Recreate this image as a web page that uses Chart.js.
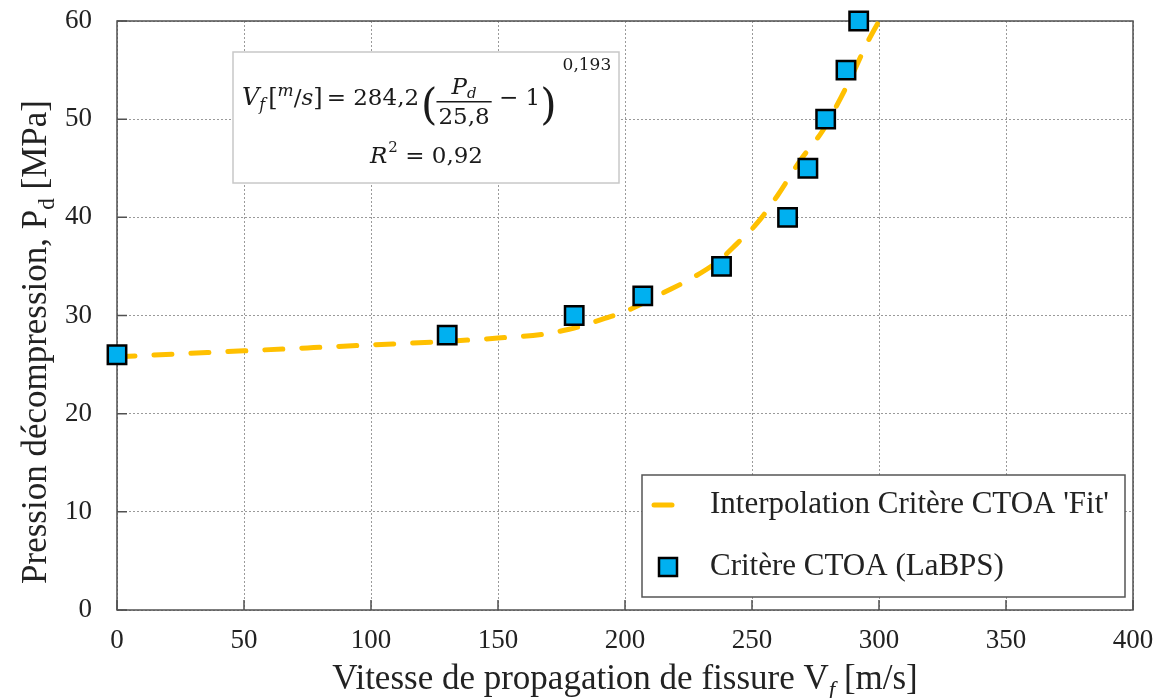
<!DOCTYPE html>
<html>
<head>
<meta charset="utf-8">
<script src="https://cdn.jsdelivr.net/npm/chart.js@4.4.0/dist/chart.umd.min.js"></script>
<style>
  html, body { margin: 0; padding: 0; background: #fff; }
  #wrap { width: 1167px; height: 698px; position: relative; }
</style>
</head>
<body>
<div id="wrap"><canvas id="chart"></canvas></div>
<script>
// courbe d'interpolation
const fitX = [0, 25, 50, 75, 100, 125, 150, 168, 178, 185, 192, 200, 215, 227, 237, 244, 252, 260, 269, 278, 285, 290, 295, 300];
const fitY = [25.8, 26.1, 26.4, 26.7, 27.0, 27.3, 27.7, 28.1, 28.6, 29.1, 29.7, 30.4, 32.3, 33.9, 35.6, 37.3, 39.4, 42.2, 45.8, 48.9, 52.2, 54.8, 57.6, 60];

// points du critère CTOA (LaBPS)
const critX = [0, 130, 180, 207, 238, 264, 272, 279, 287, 292];
const critY = [26, 28, 30, 32, 35, 40, 45, 50, 55, 60];

const xTicks = [0, 50, 100, 150, 200, 250, 300, 350, 400];
const yTicks = [0, 10, 20, 30, 40, 50, 60];

const legendLabels = ["Interpolation Critère CTOA 'Fit'", "Critère CTOA (LaBPS)"];

const jaune = '#FFC000';
const bleu = '#00B0F0';
const texte = '#222222';
const serif = '"Liberation Serif", "Times New Roman", serif';
const maths = '"DejaVu Serif", serif';

// cadre + graduations intérieures
const cadre = {
    id: 'cadre',
    beforeDatasetsDraw(chart) {
        const ctx = chart.ctx
        const a = chart.chartArea
        const sx = chart.scales.x, sy = chart.scales.y
        ctx.save()
        ctx.strokeStyle = '#505050'
        ctx.lineWidth = 1.5
        ctx.strokeRect(a.left, a.top, a.right - a.left, a.bottom - a.top)
        ctx.beginPath()
        xTicks.forEach((v) => {
            const px = sx.getPixelForValue(v)
            ctx.moveTo(px, a.bottom)
            ctx.lineTo(px, a.bottom - 10)
        })
        yTicks.forEach((v) => {
            const py = sy.getPixelForValue(v)
            ctx.moveTo(a.left, py)
            ctx.lineTo(a.left + 10, py)
        })
        ctx.stroke()
        ctx.restore()
    }
}

// titres des axes avec indices
function texteIndice(ctx, parts, x, y, align) {
    // parts : [texte, police, decalage vertical]
    let total = 0
    parts.forEach((p) => { ctx.font = p[1]; total += ctx.measureText(p[0]).width })
    let cx = align === 'center' ? x - total / 2 : x
    parts.forEach((p) => {
        ctx.font = p[1]
        ctx.fillText(p[0], cx, y + p[2])
        cx += ctx.measureText(p[0]).width
    })
}

const titres = {
    id: 'titres',
    afterDraw(chart) {
        const ctx = chart.ctx
        ctx.save()
        ctx.fillStyle = texte
        ctx.textBaseline = 'alphabetic'
        ctx.textAlign = 'left'
        texteIndice(ctx, [
            ['Vitesse de propagation de fissure V', '35px ' + serif, 0],
            ['f', 'italic 23px ' + serif, 8],
            [' [m/s]', '35px ' + serif, 0]
        ], 625, 689, 'center')

        ctx.translate(46, 342)
        ctx.rotate(-Math.PI / 2)
        texteIndice(ctx, [
            ['Pression décompression, P', '35px ' + serif, 0],
            ['d', '23px ' + serif, 8],
            [' [MPa]', '35px ' + serif, 0]
        ], 0, 0, 'center')
        ctx.restore()
    }
}

// légende et encadré de l'équation
const encadres = {
    id: 'encadres',
    afterDatasetsDraw(chart) {
        const ctx = chart.ctx
        ctx.save()

        // légende
        ctx.fillStyle = '#fff'
        ctx.fillRect(642, 475, 483, 122)
        ctx.strokeStyle = '#555'
        ctx.lineWidth = 1.5
        ctx.strokeRect(642, 475, 483, 122)

        ctx.strokeStyle = jaune
        ctx.lineWidth = 5
        ctx.lineCap = 'round'
        ctx.beginPath()
        ctx.moveTo(654, 505)
        ctx.lineTo(672, 505)
        ctx.stroke()

        ctx.fillStyle = bleu
        ctx.fillRect(659, 558, 18, 18)
        ctx.strokeStyle = '#000'
        ctx.lineWidth = 2.5
        ctx.strokeRect(659, 558, 18, 18)

        ctx.fillStyle = texte
        ctx.font = '31px ' + serif
        ctx.textBaseline = 'middle'
        ctx.fillText(legendLabels[0], 710, 505)
        ctx.fillText(legendLabels[1], 710, 567)

        // équation
        ctx.fillStyle = '#fff'
        ctx.fillRect(233, 52, 386, 131)
        ctx.strokeStyle = '#c8c8c8'
        ctx.lineWidth = 1.5
        ctx.strokeRect(233, 52, 386, 131)

        ctx.fillStyle = '#1a1a1a'
        ctx.textBaseline = 'alphabetic'
        const base = 105
        let cx = 242
        const put = (t, font, dy) => {
            ctx.font = font
            ctx.fillText(t, cx, base + (dy || 0))
            cx += ctx.measureText(t).width
        }
        put('V', 'italic 24px ' + maths)
        put('f', 'italic 16px ' + maths, 5)
        cx += 3
        put('[', '24px ' + maths)
        put('m', 'italic 17px ' + maths, -9)
        put('/', '23px ' + maths)
        put('s', 'italic 23px ' + maths)
        put(']', '24px ' + maths)
        cx += 4
        put('= 284,2', '23px ' + maths)
        cx += 2
        put('(', '42px ' + maths, 14)
        // fraction
        const fx = cx + 1
        ctx.font = '23px ' + maths
        const fw = ctx.measureText('25,8').width
        ctx.font = 'italic 23px ' + maths
        const pw = ctx.measureText('P').width
        ctx.font = 'italic 15px ' + maths
        const dw = ctx.measureText('d').width
        const px0 = fx + (fw - pw - dw) / 2
        ctx.font = 'italic 23px ' + maths
        ctx.fillText('P', px0, base - 11)
        ctx.font = 'italic 15px ' + maths
        ctx.fillText('d', px0 + pw, base - 7)
        ctx.fillRect(fx - 2, base - 4, fw + 4, 1.5)
        ctx.font = '23px ' + maths
        ctx.fillText('25,8', fx, base + 19)
        cx = fx + fw + 2
        put(' − 1', '23px ' + maths)
        put(')', '42px ' + maths, 14)
        cx += 6
        put('0,193', '17px ' + maths, -35)

        // R²
        ctx.font = 'italic 23px ' + maths
        const rw = ctx.measureText('R').width
        ctx.font = '15px ' + maths
        const sw = ctx.measureText('2').width
        ctx.font = '23px ' + maths
        const ew = ctx.measureText(' = 0,92').width
        let rx = 426 - (rw + sw + ew) / 2
        ctx.font = 'italic 23px ' + maths
        ctx.fillText('R', rx, 163)
        rx += rw + 1
        ctx.font = '15px ' + maths
        ctx.fillText('2', rx, 152)
        rx += sw
        ctx.font = '23px ' + maths
        ctx.fillText(' = 0,92', rx, 163)

        ctx.restore()
    }
}

function Grafica() {
    const data = {
        datasets: [{
            label: legendLabels[0],
            data: fitX.map((x, i) => ({ x: x, y: fitY[i] })),
            borderColor: jaune,
            borderWidth: 5,
            borderDash: [18, 19],
            borderCapStyle: 'round',
            cubicInterpolationMode: 'monotone',
            pointRadius: 0,
            fill: false,
            clip: false,
            order: 2
        }, {
            label: legendLabels[1],
            data: critX.map((x, i) => ({ x: x, y: critY[i] })),
            showLine: false,
            pointStyle: 'rect',
            pointRadius: 13,
            pointBackgroundColor: bleu,
            pointBorderColor: '#000',
            pointBorderWidth: 2.5,
            clip: false,
            order: 1
        }]
    }

    const config = {
        type: 'line',
        data: data,
        options: {
            responsive: true,
            maintainAspectRatio: false,
            animation: false,
            devicePixelRatio: 1,
            layout: { padding: { top: 21, right: 34, left: 0, bottom: 0 } },
            plugins: {
                legend: { display: false },
                tooltip: { enabled: false }
            },
            scales: {
                x: {
                    type: 'linear',
                    min: 0,
                    max: 400,
                    afterFit: (s) => { s.height = 88; s.paddingLeft = 0; s.paddingRight = 0 },
                    afterBuildTicks: (s) => { s.ticks = xTicks.map((v) => ({ value: v })) },
                    ticks: {
                        padding: 15,
                        color: texte,
                        font: { family: serif, size: 27 },
                        maxRotation: 0
                    },
                    grid: { color: '#9a9a9a', lineWidth: 1, drawTicks: false },
                    border: { display: false, dash: [2, 2] }
                },
                y: {
                    min: 0,
                    max: 60,
                    afterFit: (s) => { s.width = 117; s.paddingTop = 0; s.paddingBottom = 0 },
                    afterBuildTicks: (s) => { s.ticks = yTicks.map((v) => ({ value: v })) },
                    ticks: {
                        padding: 25,
                        color: texte,
                        font: { family: serif, size: 27 }
                    },
                    grid: { color: '#9a9a9a', lineWidth: 1, drawTicks: false },
                    border: { display: false, dash: [2, 2] }
                }
            }
        },
        plugins: [cadre, encadres, titres]
    }

    const canvas = document.getElementById('chart')
    const grafico = new Chart(canvas, config)
}

Grafica()
</script>
</body>
</html>
